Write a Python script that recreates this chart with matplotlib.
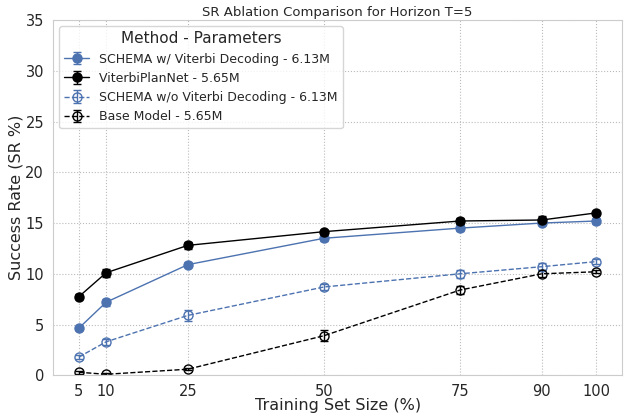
import matplotlib
matplotlib.use('Agg')
import matplotlib.pyplot as plt
import seaborn as sns

x_vals = [5, 10, 25, 50, 75, 90, 100]

schema_vit = [4.65, 7.2, 10.9, 13.5, 14.5, 15.0, 15.2]
schema_vit_err = [0.2, 0.35, 0.25, 0.3, 0.3, 0.2, 0.3]
vpn = [7.75, 10.1, 12.8, 14.15, 15.2, 15.3, 16.0]
vpn_err = [0.25, 0.4, 0.35, 0.2, 0.25, 0.35, 0.2]
schema_novit = [1.8, 3.3, 5.9, 8.7, 10.0, 10.7, 11.2]
schema_novit_err = [0.2, 0.3, 0.55, 0.3, 0.4, 0.35, 0.25]
base = [0.3, 0.1, 0.6, 3.9, 8.4, 10.0, 10.2]
base_err = [0.15, 0.1, 0.1, 0.55, 0.4, 0.35, 0.15]

labels = ["SCHEMA w/ Viterbi Decoding - 6.13M", "ViterbiPlanNet - 5.65M",
          "SCHEMA w/o Viterbi Decoding - 6.13M", "Base Model - 5.65M"]

sns.set_style("whitegrid", {"grid.linestyle": ":", "axes.edgecolor": "#cccccc"})
blue = "#4c72b0"

fig, ax = plt.subplots(figsize=(6.24, 4.17), dpi=100)

ax.errorbar(x_vals, schema_vit, yerr=schema_vit_err, color=blue, marker='o', ms=6.5,
            linestyle='-', lw=1, capsize=3, label=labels[0])
ax.errorbar(x_vals, vpn, yerr=vpn_err, color='black', marker='o', ms=6.5,
            linestyle='-', lw=1, capsize=3, label=labels[1])
ax.errorbar(x_vals, schema_novit, yerr=schema_novit_err, color=blue, marker='o', ms=6.5,
            mfc='none', linestyle='--', lw=1, capsize=3, label=labels[2])
ax.errorbar(x_vals, base, yerr=base_err, color='black', marker='o', ms=6.5,
            mfc='none', linestyle='--', lw=1, capsize=3, label=labels[3])

ax.set_xticks(x_vals)
ax.set_ylim(0, 35)
ax.tick_params(labelsize=10.5, pad=3)
ax.set_xlabel('Training Set Size (%)', fontsize=11.5, labelpad=-1)
ax.set_ylabel('Success Rate (SR %)', fontsize=11.5, labelpad=1)
ax.set_title('SR Ablation Comparison for Horizon T=5', fontsize=9.5, pad=3)
ax.grid(True, linestyle=':', color='#bbbbbb')
ax.legend(title='Method - Parameters', loc='upper left', fontsize=9, title_fontsize=11)

fig.subplots_adjust(left=0.085, right=0.997, top=0.952, bottom=0.1)
plt.savefig('out.png', dpi=100)
